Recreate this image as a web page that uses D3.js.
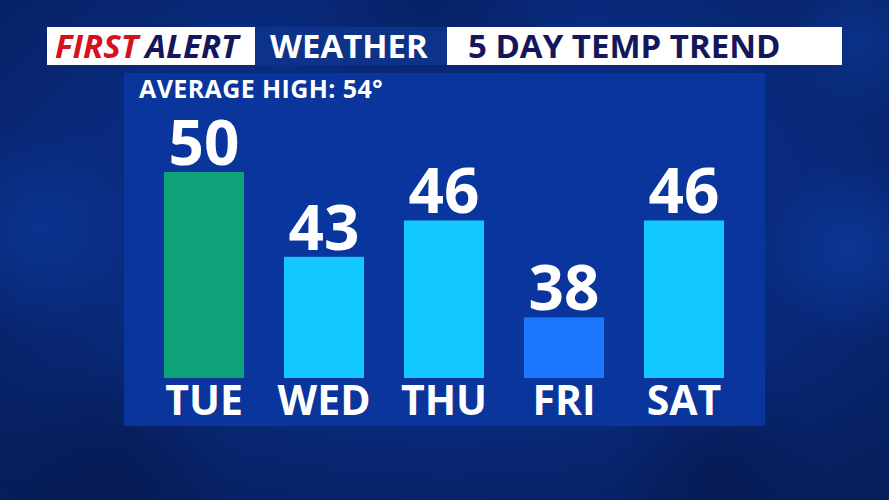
<!DOCTYPE html>
<html><head><meta charset="utf-8">
<script src="https://cdn.jsdelivr.net/npm/d3@7"></script>
<style>html,body{margin:0;padding:0;background:#092a7e;}svg{display:block;}</style>
</head><body>
<svg id="c" width="889" height="500"></svg>
<script>
const days = ["TUE","WED","THU","FRI","SAT"];
const highs = [50,43,46,38,46];
const barColors = ["#0fa37a","#12c8ff","#12c8ff","#1a78ff","#12c8ff"];
const averageHigh = 54;
const titleParts = ["FIRST","ALERT","WEATHER","5 DAY TEMP TREND"];

const svg = d3.select("#c");
const defs = svg.append("defs");
const bg = defs.append("radialGradient").attr("id","bg").attr("cx","50%").attr("cy","40%").attr("r","75%");
bg.append("stop").attr("offset","0%").attr("stop-color","#0a3190");
bg.append("stop").attr("offset","55%").attr("stop-color","#092a7c");
bg.append("stop").attr("offset","100%").attr("stop-color","#061e5a");
svg.append("rect").attr("width",889).attr("height",500).attr("fill","url(#bg)");
// soft cloud blobs via radial gradients
const blobs = [[40,230,110,"#0b3694"],[850,250,90,"#0c3a9c"],[720,480,110,"#051a52"],[110,480,120,"#051a52"],[430,0,150,"#061f60"],[860,40,80,"#0b3690"]];
blobs.forEach((b,i)=>{
  const g = defs.append("radialGradient").attr("id","bl"+i);
  g.append("stop").attr("offset","0%").attr("stop-color",b[3]).attr("stop-opacity",0.8);
  g.append("stop").attr("offset","100%").attr("stop-color",b[3]).attr("stop-opacity",0);
});
svg.append("g").selectAll("circle").data(blobs).join("circle")
  .attr("cx",d=>d[0]).attr("cy",d=>d[1]).attr("r",d=>d[2]).attr("fill",(d,i)=>`url(#bl${i})`);

// header
const hdr = svg.append("g");
hdr.append("rect").attr("x",47).attr("y",27).attr("width",208).attr("height",38).attr("fill","#ffffff");
hdr.append("rect").attr("x",255).attr("y",27).attr("width",192).attr("height",38).attr("fill","#0c3289");
hdr.append("rect").attr("x",447).attr("y",27).attr("width",395).attr("height",38).attr("fill","#ffffff");
const ht = hdr.append("text").attr("x",55).attr("y",58).attr("font-family","Open Sans").attr("font-weight",700)
  .attr("font-size",33).attr("font-style","italic");
ht.append("tspan").attr("fill","#d4121e").text(titleParts[0]);
ht.append("tspan").attr("fill","#14175c").attr("dx",7).text(titleParts[1]);
hdr.append("text").attr("x",270).attr("y",58).attr("font-family","Open Sans").attr("font-weight",700)
  .attr("font-size",33).attr("fill","#ffffff").text(titleParts[2]);
hdr.append("text").attr("x",468).attr("y",58).attr("font-family","Open Sans").attr("font-weight",700)
  .attr("font-size",33).attr("fill","#14175c").text(titleParts[3]);

// panel
svg.append("rect").attr("x",124).attr("y",73).attr("width",641).attr("height",353).attr("fill","#0a36a0").attr("opacity",0.92);

svg.append("text").attr("x",139).attr("y",98).attr("font-family","Open Sans").attr("font-weight",700)
  .attr("font-size",25).attr("letter-spacing",0.4).attr("fill","#ffffff").text(`AVERAGE HIGH: ${averageHigh}°`);

const x = d3.scaleBand().domain(days).range([144,744]).paddingInner(1/3).paddingOuter(1/6);
const y = d3.scaleLinear().domain([33,50]).range([378,172]);

const data = days.map((d,i)=>({day:d,v:highs[i],c:barColors[i]}));
svg.append("g").selectAll("rect").data(data).join("rect")
  .attr("x",d=>x(d.day)).attr("y",d=>y(d.v)).attr("width",x.bandwidth()).attr("height",d=>y(33)-y(d.v)).attr("fill",d=>d.c);
svg.append("g").selectAll("text").data(data).join("text")
  .attr("x",d=>x(d.day)+x.bandwidth()/2).attr("y",d=>y(d.v)-7).attr("text-anchor","middle")
  .attr("font-family","Open Sans").attr("font-weight",700).attr("font-size",62).attr("fill","#ffffff")
  .text(d=>d.v);
const xAxis = d3.axisBottom(x).tickSize(0).tickPadding(0);
const ax = svg.append("g").attr("transform","translate(0,378)").call(xAxis);
ax.select(".domain").remove();
ax.selectAll("text").attr("dy",null).attr("y",37).attr("font-family","Open Sans").attr("font-weight",700)
  .attr("font-size",41).attr("fill","#ffffff");
</script>
</body></html>
